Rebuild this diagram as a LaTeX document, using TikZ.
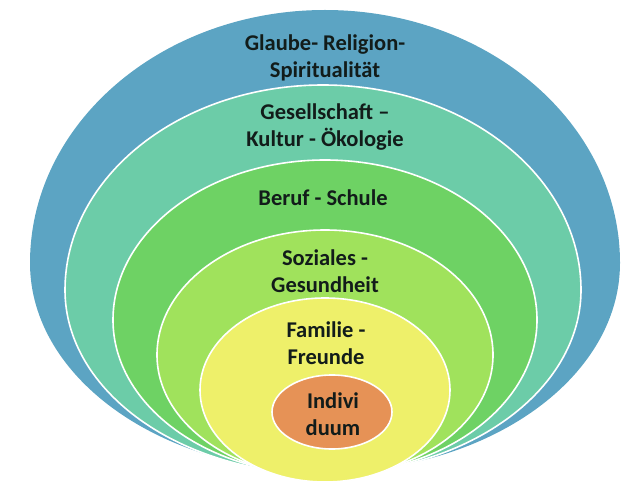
\documentclass[tikz,border=0pt]{standalone}
\usepackage{fontspec}
\setmainfont{Carlito}
\definecolor{cBlue}{RGB}{92,164,195}
\definecolor{cTeal}{RGB}{108,204,168}
\definecolor{cGreen}{RGB}{110,210,100}
\definecolor{cLight}{RGB}{160,226,92}
\definecolor{cYellow}{RGB}{238,240,106}
\definecolor{cOrange}{RGB}{230,146,86}
\definecolor{cText}{RGB}{18,28,26}
\newcommand{\eggpath}[5]{% cx, Y, rx, rtop, rbottom
  (#1+#3,#2) arc[start angle=0,end angle=180,x radius=#3,y radius=#4]
  arc[start angle=180,end angle=360,x radius=#3,y radius=#5] -- cycle}
\begin{document}
\begin{tikzpicture}[x=1pt,y=1pt,
  ring/.style={draw=white,line width=1.6pt},
  lbl/.style={font=\fontsize{22.5}{26.5}\selectfont\bfseries,text=cText,align=center,inner sep=0pt}]
\useasboundingbox (0,0) rectangle (631,488);
\fill[cBlue] \eggpath{325}{225}{295}{253}{209};
\filldraw[ring,fill=cTeal] \eggpath{323}{198}{258}{205}{184};
\filldraw[ring,fill=cGreen] \eggpath{325}{168}{212}{160}{155};
\filldraw[ring,fill=cLight] \eggpath{325}{133}{168}{125}{122};
\filldraw[ring,fill=cYellow] \eggpath{325}{98}{125}{92}{92};
\filldraw[ring,fill=cOrange] (332,76) ellipse[x radius=60,y radius=37];
\node[lbl] (glaube) at (325,430) {Glaube- Religion-\\Spiritualität};
\node[lbl] (gesell) at (325,361) {Gesellschaft –\\Kultur - Ökologie};
\node[lbl] (beruf) at (323,290) {Beruf - Schule};
\node[lbl] (sozial) at (325,217) {Soziales -\\Gesundheit};
\node[lbl] (familie) at (326,145) {Familie -\\Freunde};
\node[lbl] (indiv) at (333,74) {Indivi\\duum};
\end{tikzpicture}
\end{document}
